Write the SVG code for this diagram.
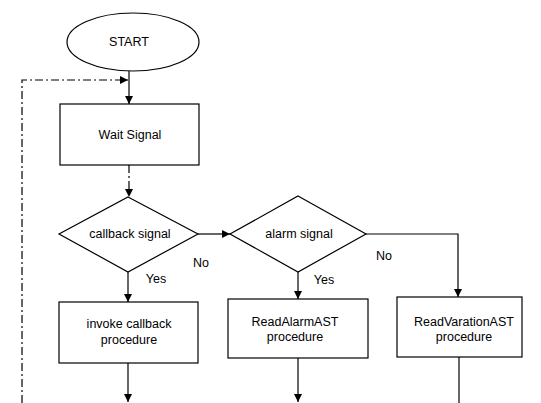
<svg xmlns="http://www.w3.org/2000/svg" width="541" height="403" viewBox="0 0 541 403">
<defs>
<marker id="arr" viewBox="0 0 10 10" refX="10" refY="5" markerWidth="8" markerHeight="8" markerUnits="userSpaceOnUse" orient="auto">
<path d="M0,0 L10,5 L0,10 z" fill="#000"/>
</marker>
<style>
.shape{fill:#fff;stroke:#000;stroke-width:1.2}
.ln{fill:none;stroke:#000;stroke-width:1.2}
.dash{stroke-dasharray:8 3 2 3}
text{font-family:"Liberation Sans",Arial,sans-serif;font-size:12.5px;fill:#000;text-anchor:middle}
</style>
</defs>
<rect width="541" height="403" fill="#fff"/>
<g id="connectors">
<path class="ln dash" d="M22,403 L22,80 L128,80" marker-end="url(#arr)"/>
<path class="ln" d="M129,71 L129,104" marker-end="url(#arr)"/>
<path class="ln dash" d="M129,165 L129,197" marker-end="url(#arr)"/>
<path class="ln" d="M198,234 L230,234" marker-end="url(#arr)"/>
<path class="ln" d="M128,272 L128,302" marker-end="url(#arr)"/>
<path class="ln" d="M298,272 L298,299" marker-end="url(#arr)"/>
<path class="ln" d="M366,234 L458,234 L458,297" marker-end="url(#arr)"/>
<path class="ln" d="M128,363 L128,402" marker-end="url(#arr)"/>
<path class="ln" d="M298,358 L298,402" marker-end="url(#arr)"/>
<path class="ln" d="M459,357 L459,403"/>
<text x="201" y="267">No</text>
<text x="156" y="283">Yes</text>
<text x="384" y="260">No</text>
<text x="324" y="284">Yes</text>
</g>
<g id="start">
<ellipse class="shape" cx="133" cy="42" rx="66" ry="29"/>
<text x="129" y="46">START</text>
</g>
<g id="wait">
<rect class="shape" x="60" y="104" width="139" height="61"/>
<text x="130" y="139">Wait Signal</text>
</g>
<g id="callback">
<polygon class="shape" points="128,197 198,234 128,272 59,234"/>
<text x="130" y="238">callback signal</text>
</g>
<g id="alarm">
<polygon class="shape" points="298,196 366,234 298,272 230,234"/>
<text x="299" y="238">alarm signal</text>
</g>
<g id="invoke">
<rect class="shape" x="59" y="302" width="139" height="61"/>
<text x="129" y="328">invoke callback</text>
<text x="129" y="344">procedure</text>
</g>
<g id="readalarm">
<rect class="shape" x="228" y="299" width="140" height="59"/>
<text x="295" y="326">ReadAlarmAST</text>
<text x="295" y="341">procedure</text>
</g>
<g id="readvar">
<rect class="shape" x="397" y="297" width="125" height="60"/>
<text x="464" y="326">ReadVarationAST</text>
<text x="464" y="341">procedure</text>
</g>
</svg>
